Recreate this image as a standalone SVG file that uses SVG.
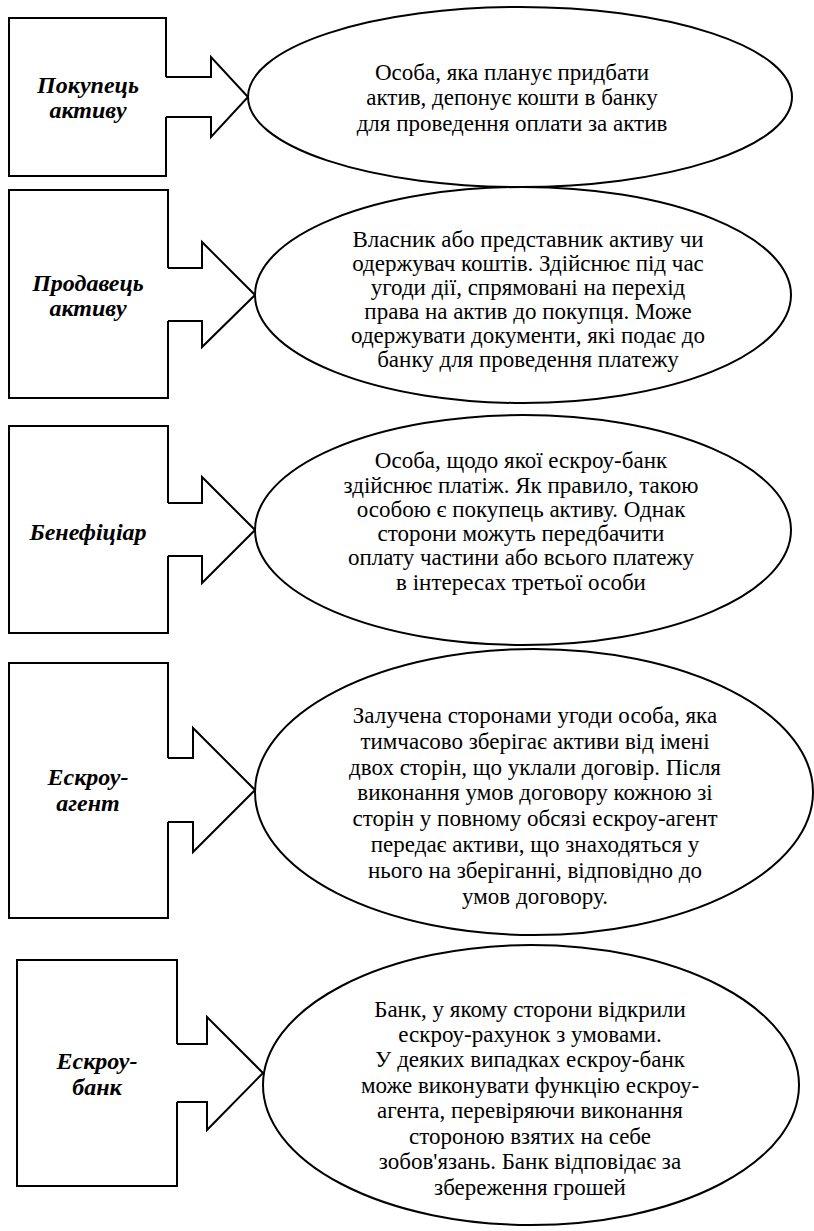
<svg xmlns="http://www.w3.org/2000/svg" width="814" height="1231" viewBox="0 0 814 1231">
<style>
.shape{fill:none;stroke:#000;stroke-width:2;stroke-linejoin:miter}
.ell{fill:#fff;stroke:#000;stroke-width:2}
.lbl{font-size:24px;font-weight:bold;font-style:italic;text-anchor:middle;fill:#000}
.txt{font-size:23px;text-anchor:middle;fill:#000}
</style>
<rect width="814" height="1231" fill="#fff"/>
<g id="connectors">
<path class="shape" d="M166,77 H211 V57 L248,97 L211,137 V117 H166"/>
<path class="shape" d="M168,268 H202 V242 L255,295 L202,347 V321 H168"/>
<path class="shape" d="M168,503 H202 V477 L255,530 L202,583 V556 H168"/>
<path class="shape" d="M168,758 H193 V728 L255,790 L193,852 V822 H168"/>
<path class="shape" d="M177,1044 H207 V1017 L263,1073 L207,1130 V1102 H177"/>
</g>
<g id="buyer">
<path class="shape" d="M166,77 V18 H9 V176 H166 V117"/>
<text class="lbl" font-family="Liberation Serif, DejaVu Serif, serif" x="88" y="93">Покупець</text>
<text class="lbl" font-family="Liberation Serif, DejaVu Serif, serif" x="88" y="118">активу</text>
</g>
<g id="buyer-desc">
<ellipse class="ell" cx="520" cy="97" rx="272" ry="90"/>
<text class="txt" font-family="Liberation Serif, DejaVu Serif, serif" x="512" y="80">Особа, яка планує придбати</text>
<text class="txt" font-family="Liberation Serif, DejaVu Serif, serif" x="512" y="105">актив, депонує кошти в банку</text>
<text class="txt" font-family="Liberation Serif, DejaVu Serif, serif" x="512" y="131">для проведення оплати за актив</text>
</g>
<g id="seller">
<path class="shape" d="M168,268 V190 H9 V398 H168 V321"/>
<text class="lbl" font-family="Liberation Serif, DejaVu Serif, serif" x="88" y="291">Продавець</text>
<text class="lbl" font-family="Liberation Serif, DejaVu Serif, serif" x="88" y="316">активу</text>
</g>
<g id="seller-desc">
<ellipse class="ell" cx="523" cy="295" rx="268" ry="108"/>
<text class="txt" font-family="Liberation Serif, DejaVu Serif, serif" x="528" y="247">Власник або представник активу чи</text>
<text class="txt" font-family="Liberation Serif, DejaVu Serif, serif" x="528" y="271">одержувач коштів. Здійснює під час</text>
<text class="txt" font-family="Liberation Serif, DejaVu Serif, serif" x="528" y="295">угоди дії, спрямовані на перехід</text>
<text class="txt" font-family="Liberation Serif, DejaVu Serif, serif" x="528" y="319">права на актив до покупця. Може</text>
<text class="txt" font-family="Liberation Serif, DejaVu Serif, serif" x="528" y="343">одержувати документи, які подає до</text>
<text class="txt" font-family="Liberation Serif, DejaVu Serif, serif" x="528" y="367">банку для проведення платежу</text>
</g>
<g id="beneficiary">
<path class="shape" d="M168,503 V426 H9 V633 H168 V556"/>
<text class="lbl" font-family="Liberation Serif, DejaVu Serif, serif" x="88" y="540">Бенефіціар</text>
</g>
<g id="beneficiary-desc">
<ellipse class="ell" cx="523" cy="530" rx="268" ry="115"/>
<text class="txt" font-family="Liberation Serif, DejaVu Serif, serif" x="521" y="468">Особа, щодо якої ескроу-банк</text>
<text class="txt" font-family="Liberation Serif, DejaVu Serif, serif" x="521" y="493">здійснює платіж. Як правило, такою</text>
<text class="txt" font-family="Liberation Serif, DejaVu Serif, serif" x="521" y="517">особою є покупець активу. Однак</text>
<text class="txt" font-family="Liberation Serif, DejaVu Serif, serif" x="521" y="541">сторони можуть передбачити</text>
<text class="txt" font-family="Liberation Serif, DejaVu Serif, serif" x="521" y="565">оплату частини або всього платежу</text>
<text class="txt" font-family="Liberation Serif, DejaVu Serif, serif" x="521" y="590">в інтересах третьої особи</text>
</g>
<g id="escrow-agent">
<path class="shape" d="M168,758 V663 H9 V918 H168 V822"/>
<text class="lbl" font-family="Liberation Serif, DejaVu Serif, serif" x="88" y="785">Ескроу-</text>
<text class="lbl" font-family="Liberation Serif, DejaVu Serif, serif" x="88" y="811">агент</text>
</g>
<g id="escrow-agent-desc">
<ellipse class="ell" cx="534" cy="792" rx="279" ry="143"/>
<text class="txt" font-family="Liberation Serif, DejaVu Serif, serif" x="535" y="723">Залучена сторонами угоди особа, яка</text>
<text class="txt" font-family="Liberation Serif, DejaVu Serif, serif" x="535" y="749">тимчасово зберігає активи від імені</text>
<text class="txt" font-family="Liberation Serif, DejaVu Serif, serif" x="535" y="775">двох сторін, що уклали договір. Після</text>
<text class="txt" font-family="Liberation Serif, DejaVu Serif, serif" x="535" y="800">виконання умов договору кожною зі</text>
<text class="txt" font-family="Liberation Serif, DejaVu Serif, serif" x="535" y="826">сторін у повному обсязі ескроу-агент</text>
<text class="txt" font-family="Liberation Serif, DejaVu Serif, serif" x="535" y="852">передає активи, що знаходяться у</text>
<text class="txt" font-family="Liberation Serif, DejaVu Serif, serif" x="535" y="878">нього на зберіганні, відповідно до</text>
<text class="txt" font-family="Liberation Serif, DejaVu Serif, serif" x="535" y="904">умов договору.</text>
</g>
<g id="escrow-bank">
<path class="shape" d="M177,1044 V960 H17 V1186 H177 V1102"/>
<text class="lbl" font-family="Liberation Serif, DejaVu Serif, serif" x="97" y="1069">Ескроу-</text>
<text class="lbl" font-family="Liberation Serif, DejaVu Serif, serif" x="97" y="1095">банк</text>
</g>
<g id="escrow-bank-desc">
<ellipse class="ell" cx="531" cy="1085" rx="268" ry="140"/>
<text class="txt" font-family="Liberation Serif, DejaVu Serif, serif" x="530" y="1017">Банк, у якому сторони відкрили</text>
<text class="txt" font-family="Liberation Serif, DejaVu Serif, serif" x="530" y="1042">ескроу-рахунок з умовами.</text>
<text class="txt" font-family="Liberation Serif, DejaVu Serif, serif" x="530" y="1067">У деяких випадках ескроу-банк</text>
<text class="txt" font-family="Liberation Serif, DejaVu Serif, serif" x="530" y="1093">може виконувати функцію ескроу-</text>
<text class="txt" font-family="Liberation Serif, DejaVu Serif, serif" x="530" y="1118">агента, перевіряючи виконання</text>
<text class="txt" font-family="Liberation Serif, DejaVu Serif, serif" x="530" y="1144">стороною взятих на себе</text>
<text class="txt" font-family="Liberation Serif, DejaVu Serif, serif" x="530" y="1169">зобов'язань. Банк відповідає за</text>
<text class="txt" font-family="Liberation Serif, DejaVu Serif, serif" x="530" y="1195">збереження грошей</text>
</g>
</svg>
